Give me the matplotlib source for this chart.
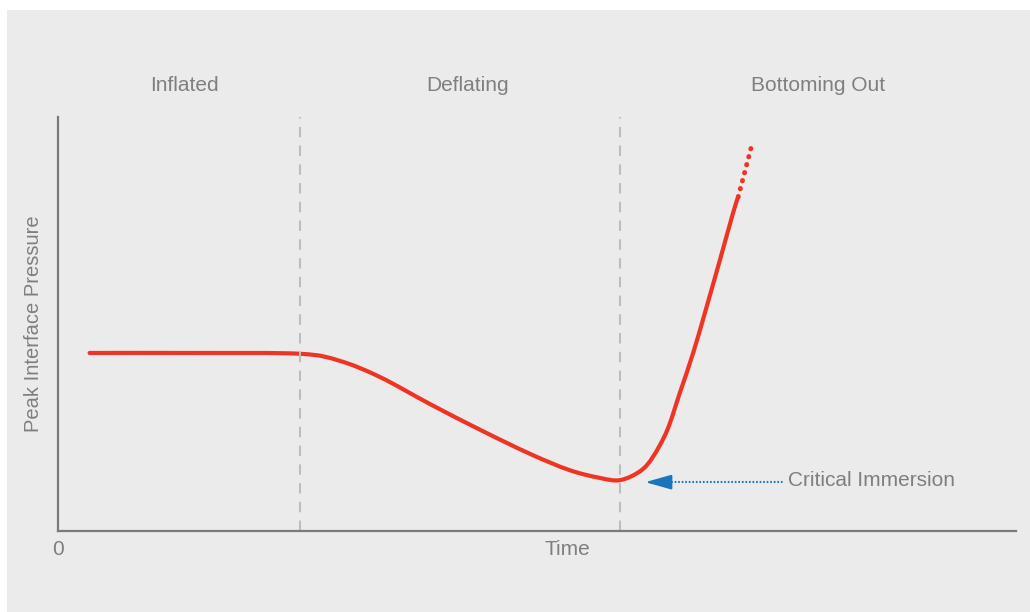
import matplotlib.pyplot as plt
from matplotlib.patches import Rectangle, PathPatch
from matplotlib.path import Path

plt.rcParams['font.family'] = ['Liberation Sans', 'DejaVu Sans']

# pressure curve (arbitrary units)
time = [0.33, 1.48, 2.53, 2.94, 3.36, 3.88, 4.41, 4.93, 5.34, 5.66, 5.87, 6.08,
        6.21, 6.36, 6.49, 6.63, 6.77, 6.91, 7.05, 7.10]
pressure = [4.30, 4.30, 4.28, 4.11, 3.72, 3.07, 2.44, 1.86, 1.47, 1.28, 1.23, 1.45,
            1.79, 2.44, 3.33, 4.30, 5.41, 6.55, 7.71, 8.07]
time_ext = [7.10, 7.24]
pressure_ext = [8.07, 9.30]

phase_names = ['Inflated', 'Deflating', 'Bottoming Out']
phase_centers = [1.32, 4.28, 7.93]
phase_bounds = [2.53, 5.87]

crit_y = 1.18
crit_tip = 6.13
crit_tail = 7.57

red = '#ee3524'
grey = '#7f7f7f'
blue = '#1a75bc'


def smooth_path(xs, ys):
    # catmull-rom through the points, drawn as cubic bezier segments
    pts = list(zip(xs, ys))
    verts = [pts[0]]
    codes = [Path.MOVETO]
    for i in range(len(pts) - 1):
        p0 = pts[i - 1] if i > 0 else pts[i]
        p1 = pts[i]
        p2 = pts[i + 1]
        p3 = pts[i + 2] if i + 2 < len(pts) else pts[i + 1]
        c1 = (p1[0] + (p2[0] - p0[0]) / 6, p1[1] + (p2[1] - p0[1]) / 6)
        c2 = (p2[0] - (p3[0] - p1[0]) / 6, p2[1] - (p3[1] - p1[1]) / 6)
        verts += [c1, c2, p2]
        codes += [Path.CURVE4] * 3
    return Path(verts, codes)


fig = plt.figure(figsize=(10.3, 6.12), dpi=100)
fig.patch.set_facecolor('white')
fig.patches.append(Rectangle((7 / 1030, 0), 1, 1 - 10 / 612, transform=fig.transFigure,
                             facecolor='#ebebeb', edgecolor='none', zorder=-10))

ax = fig.add_axes([58 / 1030, 1 - 531 / 612, 958 / 1030, 414 / 612])
ax.set_facecolor('none')
ax.set_xlim(0, 10)
ax.set_ylim(0, 10)
for s in ['top', 'right']:
    ax.spines[s].set_visible(False)
for s in ['left', 'bottom']:
    ax.spines[s].set_color('#7a7a7a')
    ax.spines[s].set_linewidth(1.6)
ax.set_xticks([])
ax.set_yticks([])

for b in phase_bounds:
    ax.axvline(b, color='#bdbdbd', lw=1.5, dashes=(5, 4))

for name, c in zip(phase_names, phase_centers):
    ax.text(c, 10.75, name, ha='center', va='center', fontsize=15, color=grey, clip_on=False)

ax.add_patch(PathPatch(smooth_path(time, pressure), facecolor='none', edgecolor=red,
                       lw=3, capstyle='round', joinstyle='round'))
ax.plot(time_ext, pressure_ext, color=red, lw=3.5, linestyle=(0, (0.1, 1.6)), dash_capstyle='round')

# critical immersion pointer
ax.plot([crit_tip + 0.2, crit_tail], [crit_y, crit_y], color=blue, lw=1.5, linestyle=(0, (0.8, 0.9)))
ax.annotate('', xy=(crit_tip, crit_y), xytext=(crit_tip + 0.26, crit_y),
            arrowprops=dict(arrowstyle='-|>,head_length=1.6,head_width=0.45', color=blue,
                            lw=1.5, shrinkA=0, shrinkB=0))
ax.text(crit_tail + 0.05, crit_y + 0.04, 'Critical Immersion', ha='left', va='center',
        fontsize=15, color=grey)

ax.text(0, -0.45, '0', ha='center', va='center', fontsize=15, color=grey, clip_on=False)
ax.text(5.32, -0.45, 'Time', ha='center', va='center', fontsize=15, color=grey, clip_on=False)
ax.set_ylabel('Peak Interface Pressure', fontsize=14.5, color=grey)
ax.yaxis.set_label_coords(-15 / 958, 0.5)

fig.savefig('out.png', dpi=100, facecolor='white')
